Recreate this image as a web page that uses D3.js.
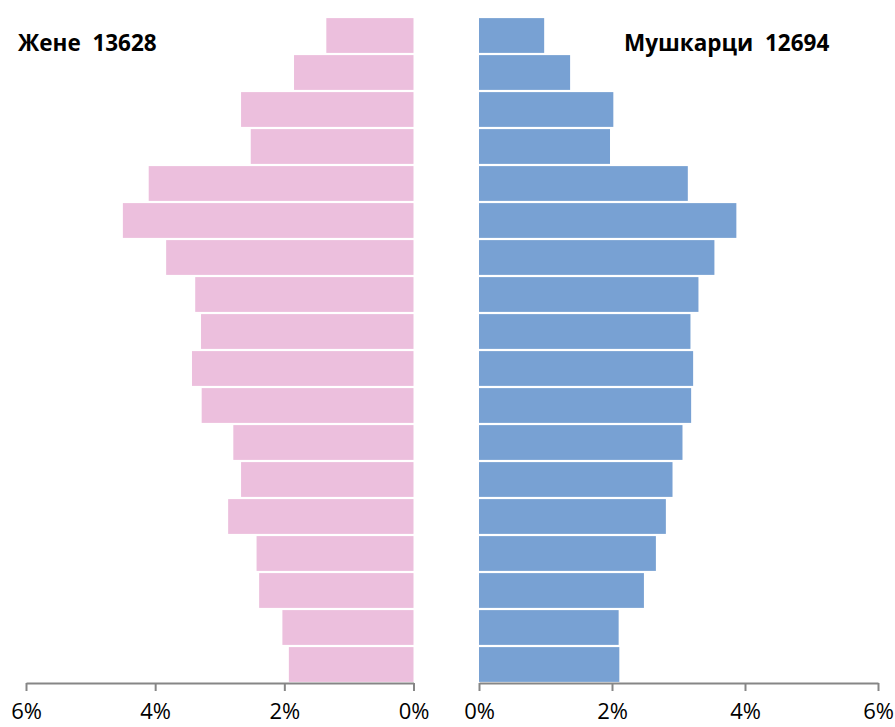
<!DOCTYPE html>
<html>
<head>
<meta charset="utf-8">
<script src="https://cdn.jsdelivr.net/npm/d3@7"></script>
<style>
  html, body { margin: 0; padding: 0; background: #fff; }
  svg { display: block; }
  .title { font-family: "Open Sans", "DejaVu Sans", sans-serif; font-weight: bold; font-size: 22.5px; fill: #000; white-space: pre; }
  .axis text { font-family: "Open Sans", "DejaVu Sans", sans-serif; font-size: 22px; fill: #000; }
</style>
</head>
<body>
<svg id="chart" width="895" height="727"></svg>
<script>
// Age groups, top (oldest) to bottom (youngest)
const ageGroups = ["85+","80-84","75-79","70-74","65-69","60-64","55-59","50-54","45-49",
                   "40-44","35-39","30-34","25-29","20-24","15-19","10-14","5-9","0-4"];
// Share of total population (%)
const women = [1.35, 1.85, 2.67, 2.52, 4.10, 4.50, 3.83, 3.38, 3.29,
               3.43, 3.28, 2.79, 2.67, 2.87, 2.43, 2.39, 2.03, 1.93];
const men   = [0.98, 1.37, 2.02, 1.97, 3.14, 3.87, 3.54, 3.30, 3.18,
               3.22, 3.19, 3.06, 2.91, 2.81, 2.66, 2.48, 2.10, 2.11];
const tickValues = [0, 2, 4, 6];
const womenTitle = "Жене  13628";
const menTitle = "Мушкарци  12694";

const svg = d3.select("#chart");
const axisY = 683;

const y = d3.scaleBand().domain(ageGroups).range([17, axisY]).paddingInner(0.06).paddingOuter(0.03);
const xL = d3.scaleLinear().domain([6, 0]).range([26, 413.5]);
const xR = d3.scaleLinear().domain([0, 6]).range([479, 878]);

// Women bars
svg.append("g").selectAll("rect").data(women).join("rect")
  .attr("x", d => xL(d))
  .attr("y", (d, i) => y(ageGroups[i]))
  .attr("width", d => xL(0) - xL(d))
  .attr("height", y.bandwidth())
  .attr("fill", "#ECBFDD");

// Men bars
svg.append("g").selectAll("rect").data(men).join("rect")
  .attr("x", xR(0))
  .attr("y", (d, i) => y(ageGroups[i]))
  .attr("width", d => xR(d) - xR(0))
  .attr("height", y.bandwidth())
  .attr("fill", "#78A1D3");

function styleAxis(g) {
  g.select(".domain").attr("stroke", "#868686").attr("stroke-width", 2);
  g.selectAll(".tick line").attr("stroke", "#868686").attr("stroke-width", 2);
  g.selectAll(".tick text").attr("y", 20);
}

svg.append("g").attr("class", "axis").attr("transform", `translate(0,${axisY})`)
  .call(d3.axisBottom(xL).tickValues(tickValues).tickSize(8).tickSizeOuter(0).tickFormat(d => d + "%"))
  .call(styleAxis);

svg.append("g").attr("class", "axis").attr("transform", `translate(0,${axisY})`)
  .call(d3.axisBottom(xR).tickValues(tickValues).tickSize(8).tickSizeOuter(0).tickFormat(d => d + "%"))
  .call(styleAxis);

svg.append("text").attr("class", "title").attr("x", 18).attr("y", 51).text(womenTitle);
svg.append("text").attr("class", "title").attr("x", 624).attr("y", 51).text(menTitle);
</script>
</body>
</html>
